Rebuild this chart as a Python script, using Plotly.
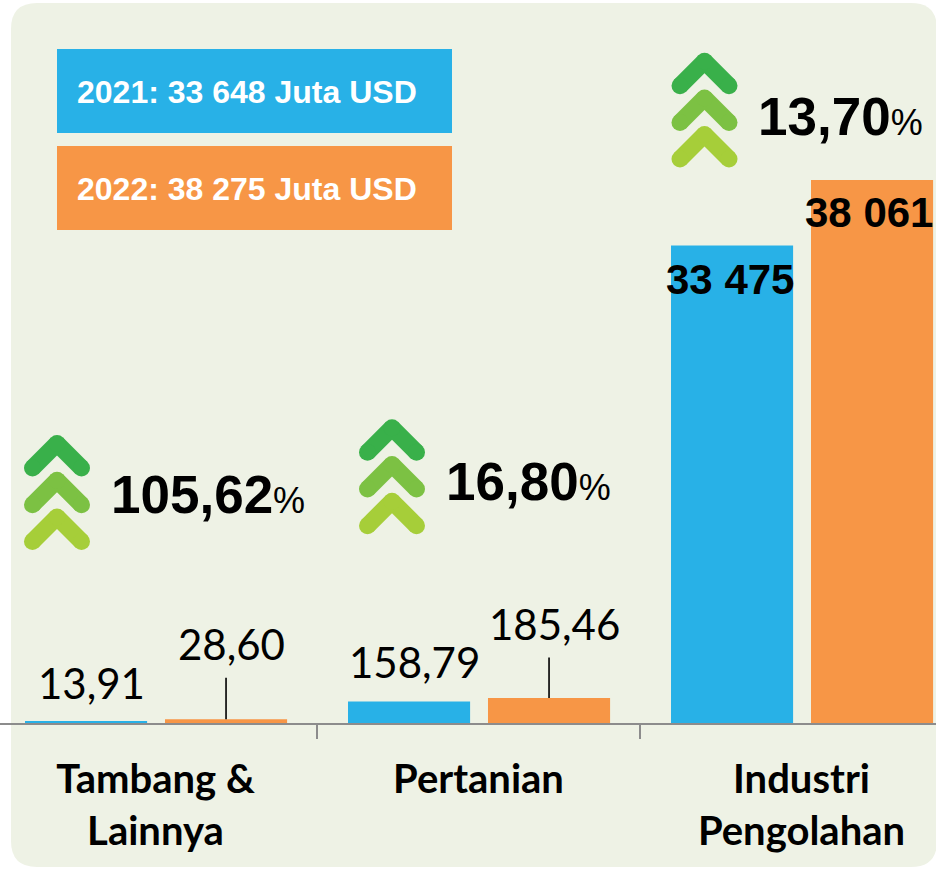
import plotly.graph_objects as go

# ---------------- data ----------------
categories = ["Tambang &<br>Lainnya", "Pertanian", "Industri<br>Pengolahan"]
values_2021 = [13.91, 158.79, 33475]
values_2022 = [28.60, 185.46, 38061]
growth_pct = [105.62, 16.80, 13.70]
total_2021 = 33648
total_2022 = 38275
years = ["2021", "2022"]
# which value axis each category is drawn on (small sectors use an enlarged scale)
scale_axis = ["y2", "y2", "y"]

# ---------------- style ----------------
W, H = 936, 869
PLOT_H = 723          # plot area height (baseline at pixel 723)
BLUE = "#28b1e7"
ORANGE = "#f79646"
BG = "#eef2e5"
GREENS = ["#39b04a", "#7cc143", "#a6ce39"]
BAR_W = 0.378
OFFSETS = [-0.404, 0.0294]
Y_BIG_MAX = 50677
Y_SMALL_MAX = 5356


def fmt_dec(v):
    return f"{v:.2f}".replace(".", ",")


def fmt_int(v):
    return f"{v:,.0f}".replace(",", " ")


def px_x(px):
    return px / W


def px_y(py):
    return (PLOT_H - py) / PLOT_H


fig = go.Figure()

colors = [BLUE, ORANGE]
series = [values_2021, values_2022]
for si, vals in enumerate(series):
    for axis in ["y", "y2"]:
        xs = [categories[i] for i in range(3) if scale_axis[i] == axis]
        ys = [vals[i] for i in range(3) if scale_axis[i] == axis]
        fig.add_trace(go.Bar(
            x=xs, y=ys, name=years[si], yaxis=axis,
            width=BAR_W, offset=OFFSETS[si],
            marker=dict(color=colors[si], line=dict(width=0)),
            showlegend=False, hoverinfo="skip",
        ))

annotations = []
shapes = []

# value labels
centers = [OFFSETS[0] + BAR_W / 2, OFFSETS[1] + BAR_W / 2]
label_shift = {
    (0, 0): (5, 38), (1, 0): (5, 75),
    (0, 1): (5, 40), (1, 1): (5, 74),
    (0, 2): (-2, -34), (1, 2): (-3, -33),
}
leader = {(1, 0): -43, (1, 1): -42}
for si, vals in enumerate(series):
    for ci, v in enumerate(vals):
        big = scale_axis[ci] == "y"
        xs, ys = label_shift[(si, ci)]
        annotations.append(dict(
            x=ci + centers[si], y=v, xref="x", yref=scale_axis[ci],
            text=(f"<b>{fmt_int(v)}</b>" if big else fmt_dec(v)),
            showarrow=False, xanchor="center", yanchor="middle",
            xshift=xs, yshift=ys,
            font=(dict(family="Liberation Sans, Arial", size=42, color="black") if big
                  else dict(family="Lato", size=42, color="black")),
        ))
        if (si, ci) in leader:
            annotations.append(dict(
                x=ci + centers[si], y=v, xref="x", yref=scale_axis[ci],
                text="", showarrow=True, arrowhead=0, arrowwidth=1.6,
                arrowcolor="black", ax=0, ay=leader[(si, ci)], standoff=0,
            ))

# growth labels
pct_pos = [(-46.5, 494.5), (-34.5, 481), (-46, 117)]
for ci, p in enumerate(growth_pct):
    xs, py = pct_pos[ci]
    annotations.append(dict(
        x=ci, y=px_y(py), xref="x", yref="paper", xanchor="left", yanchor="middle",
        xshift=xs, showarrow=False,
        text=f"<b>{fmt_dec(p)}</b><span style='font-size:36px'>%</span>",
        font=dict(family="Liberation Sans, Arial", size=53, color="black"),
    ))

# chevrons (decoration)
chev = [(57, 443.5), (392, 427.8), (704.5, 61.2)]
T = 17
HW = 24.5
STEP = 36.7
for cx, cy0 in chev:
    for k in range(3):
        cy = cy0 + k * STEP
        col = GREENS[k]
        pts = [(cx - HW, cy + HW), (cx, cy), (cx + HW, cy + HW)]
        for a, b in [(pts[0], pts[1]), (pts[1], pts[2])]:
            shapes.append(dict(type="line", xref="paper", yref="paper",
                               x0=px_x(a[0]), y0=px_y(a[1]), x1=px_x(b[0]), y1=px_y(b[1]),
                               line=dict(color=col, width=T)))
        for (qx, qy) in pts:
            shapes.append(dict(type="circle", xref="paper", yref="paper",
                               x0=px_x(qx - T / 2), x1=px_x(qx + T / 2),
                               y0=px_y(qy + T / 2), y1=px_y(qy - T / 2),
                               fillcolor=col, line=dict(width=0)))

# background rounded panel
x0, x1, yt, yb = px_x(11), px_x(937), px_y(3), px_y(867)
rx, ry = 26 / W, 26 / PLOT_H
path = (f"M {x0+rx} {yt} L {x1-rx} {yt} Q {x1} {yt} {x1} {yt-ry} "
        f"L {x1} {yb+ry} Q {x1} {yb} {x1-rx} {yb} L {x0+rx} {yb} "
        f"Q {x0} {yb} {x0} {yb+ry} L {x0} {yt-ry} Q {x0} {yt} {x0+rx} {yt} Z")
shapes.insert(0, dict(type="path", path=path, xref="paper", yref="paper",
                      fillcolor=BG, line=dict(width=0), layer="below"))

# legend boxes
legend_boxes = [(49, 133, BLUE, f"2021: {fmt_int(total_2021)} Juta USD"),
                (146, 230, ORANGE, f"2022: {fmt_int(total_2022)} Juta USD")]
for top, bot, col, txt in legend_boxes:
    shapes.append(dict(type="rect", xref="paper", yref="paper",
                       x0=px_x(57), x1=px_x(452), y0=px_y(bot), y1=px_y(top),
                       fillcolor=col, line=dict(width=0)))
    annotations.append(dict(
        x=px_x(75), y=px_y((top + bot) / 2 + 1), xref="paper", yref="paper",
        xanchor="left", yanchor="middle", showarrow=False,
        text=f"<b>{txt}</b>",
        font=dict(family="Liberation Sans, Arial", size=32, color="white"),
    ))

fig.update_layout(
    width=W, height=H,
    margin=dict(l=0, r=0, t=0, b=H - PLOT_H),
    paper_bgcolor="white", plot_bgcolor="rgba(0,0,0,0)",
    barmode="overlay", showlegend=False,
    xaxis=dict(
        type="category", categoryarray=categories, range=[-0.4814, 2.4164],
        showline=True, linecolor="#8c8c8c", linewidth=2,
        ticks="outside", tickson="boundaries", ticklen=14, tickwidth=2, tickcolor="#8c8c8c",
        ticklabelstandoff=20,
        tickfont=dict(family="Lato", size=40, color="black", weight="bold"),
        showgrid=False, zeroline=False, fixedrange=True,
    ),
    yaxis=dict(range=[0, Y_BIG_MAX], visible=False, fixedrange=True),
    yaxis2=dict(range=[0, Y_SMALL_MAX], visible=False, overlaying="y", fixedrange=True),
    annotations=annotations,
    shapes=shapes,
    hovermode=False,
)

fig.write_html("out.html", config={"displayModeBar": False},
               post_script="document.body.style.margin='0px';")
